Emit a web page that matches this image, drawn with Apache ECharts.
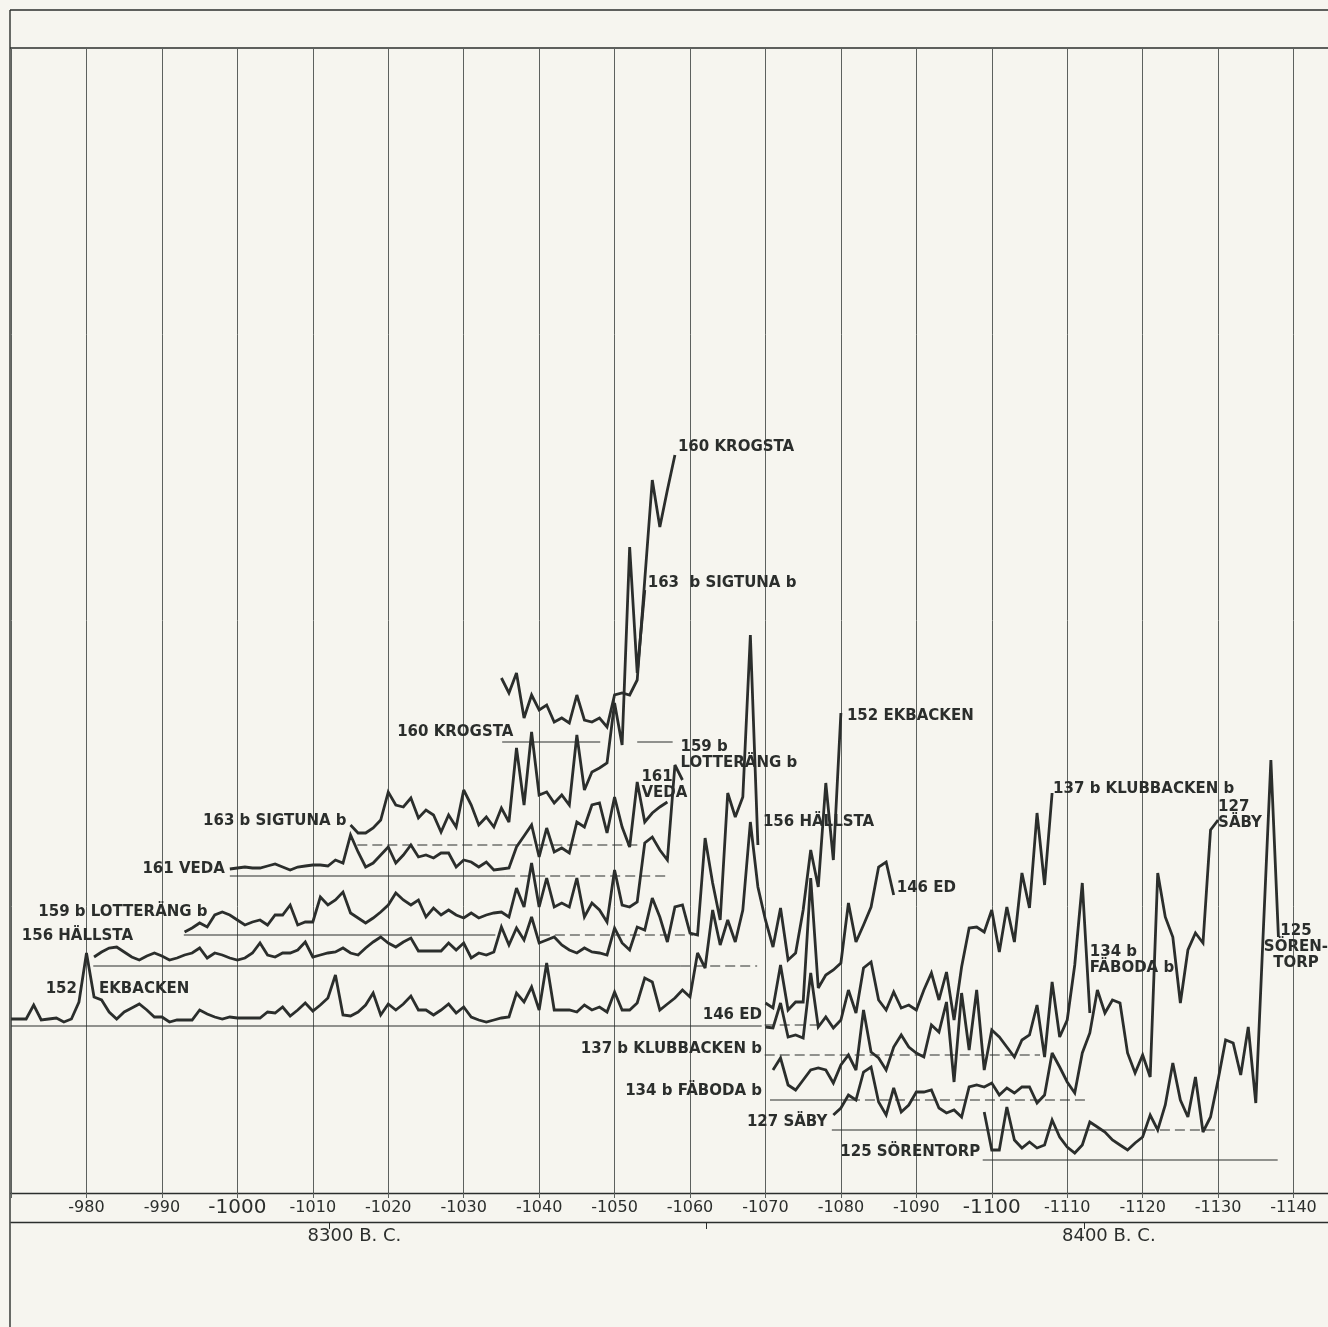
<!DOCTYPE html>
<html>
<head>
<meta charset="utf-8">
<script src="https://cdn.jsdelivr.net/npm/echarts@6/dist/echarts.min.js"></script>
<style>
  html, body { margin: 0; padding: 0; background: #f6f5ef; }
  #chart { width: 1328px; height: 1327px; }
</style>
</head>
<body>
<div id="chart"></div>
<script>
// Varve-thickness curves of eleven sites, plotted against the varve year.
// Each curve is lifted to its own base level; thickness values are relative
// to that base level (arbitrary units).

const siteNames = ['152 EKBACKEN', '156 HÄLLSTA', '159 b LOTTERÄNG b', '161 VEDA',
  '163 b SIGTUNA b', '160 KROGSTA', '146 ED', '137 b KLUBBACKEN b',
  '134 b FÄBODA b', '127 SÄBY', '125 SÖRENTORP'];

// first (youngest) varve year of every curve; each next value is one year older
const firstYears = [-970, -981, -993, -999, -1015, -1035, -1070, -1070, -1071, -1079, -1099];

// base level of every curve on the value axis
const baseLevels = [33.4, 45.4, 51.6, 63.4, 69.6, 90.2, 33.6, 27.6, 18.6, 12.6, 6.6];

const ekbackenVarves = [
  1.4, 1.4, 1.4, 4.2, 1.2, 1.4, 1.6, 0.8, 1.4, 4.8,
  14.6, 5.8, 5.2, 2.8, 1.4, 2.8, 3.6, 4.4, 3.2, 1.8,
  1.8, 0.8, 1.2, 1.2, 1.2, 3.2, 2.4, 1.8, 1.4, 1.8,
  1.6, 1.6, 1.6, 1.6, 2.8, 2.6, 3.8, 2.0, 3.2, 4.6,
  3.0, 4.2, 5.6, 10.2, 2.2, 2.0, 2.8, 4.2, 6.6, 2.2,
  4.4, 3.2, 4.4, 6.0, 3.2, 3.2, 2.2, 3.2, 4.4, 2.6,
  3.8, 1.8, 1.2, 0.8, 1.2, 1.6, 1.8, 6.6, 4.8, 7.8,
  3.2, 12.6, 3.2, 3.2, 3.2, 2.8, 4.2, 3.2, 3.8, 2.8,
  6.8, 3.2, 3.2, 4.6, 9.6, 8.8, 3.2, 4.4, 5.6, 7.2,
  5.8, 14.6, 11.6, 23.2, 16.2, 21.2, 16.8, 23.2, 40.8, 27.8,
  21.2, 15.8, 23.6, 13.2, 14.6, 23.2, 35.2, 27.8, 48.6, 33.2,
  62.6];

const hallstaVarves = [
  1.8, 2.8, 3.6, 3.8, 2.8, 1.8, 1.2, 2.0, 2.6, 2.0,
  1.2, 1.6, 2.2, 2.6, 3.6, 1.6, 2.6, 2.2, 1.6, 1.2,
  1.6, 2.6, 4.6, 2.2, 1.8, 2.6, 2.6, 3.2, 4.8, 1.8,
  2.2, 2.6, 2.8, 3.6, 2.6, 2.2, 3.6, 4.8, 5.8, 4.6,
  3.8, 4.8, 5.6, 3.0, 3.0, 3.0, 3.0, 4.6, 3.2, 4.6,
  1.6, 2.6, 2.2, 2.8, 7.8, 4.2, 7.6, 5.2, 9.8, 4.6,
  5.2, 5.8, 4.2, 3.2, 2.6, 3.6, 2.8, 2.6, 2.2, 7.6,
  4.6, 3.2, 7.8, 7.2, 13.6, 9.8, 4.8, 11.8, 12.2, 6.6,
  6.2, 25.6, 16.6, 9.2, 34.6, 29.8, 33.8, 66.2, 24.2];

const lotterangVarves = [
  0.6, 1.4, 2.4, 1.6, 4.0, 4.6, 4.0, 3.0, 2.0, 2.6,
  3.0, 2.0, 4.0, 4.0, 6.0, 2.0, 2.6, 2.6, 7.6, 6.0,
  7.0, 8.6, 4.4, 3.4, 2.4, 3.4, 4.6, 6.0, 8.4, 7.0,
  6.0, 7.0, 3.6, 5.4, 4.0, 5.0, 4.0, 3.4, 4.4, 3.4,
  4.0, 4.4, 4.6, 3.6, 9.4, 5.6, 14.4, 5.6, 11.4, 5.6,
  6.4, 5.6, 11.4, 3.6, 6.4, 5.0, 2.6, 13.0, 6.0, 5.6,
  6.6, 18.4, 19.6, 17.0, 15.0, 34.0, 31.0];

const vedaVarves = [
  1.4, 1.6, 1.8, 1.6, 1.6, 2.0, 2.4, 1.8, 1.2, 1.8,
  2.0, 2.2, 2.2, 2.0, 3.2, 2.6, 8.2, 4.8, 1.8, 2.6,
  4.2, 5.8, 2.6, 4.2, 6.2, 3.8, 4.2, 3.6, 4.6, 4.6,
  1.8, 3.2, 2.8, 1.8, 2.8, 1.2, 1.4, 1.6, 5.8, 8.0,
  10.2, 3.8, 9.6, 4.8, 5.6, 4.6, 10.8, 9.8, 14.2, 14.6,
  8.6, 15.8, 9.8, 5.8, 18.8, 10.8, 12.6, 13.8, 14.8];

const sigtunaVarves = [
  4.0, 2.4, 2.4, 3.4, 5.0, 10.6, 8.0, 7.6, 9.4, 5.4,
  7.0, 6.0, 2.6, 6.0, 3.6, 11.0, 8.0, 4.0, 5.6, 3.6,
  7.4, 4.6, 19.4, 8.0, 22.6, 10.0, 10.6, 8.4, 10.0, 8.0,
  22.0, 11.0, 14.6, 15.4, 16.4, 28.4, 20.0, 59.6, 34.4, 51.0];

const krogstaVarves = [
  12.8, 9.8, 13.8, 4.8, 9.4, 6.4, 7.4, 4.0, 4.8, 3.8,
  9.4, 4.4, 4.0, 4.8, 3.0, 9.4, 9.8, 9.4, 12.4, 32.4,
  52.4, 43.0, 50.4, 57.4];

const edVarves = [
  4.4, 3.4, 12.0, 3.0, 4.6, 4.6, 29.4, 7.4, 10.0, 11.0,
  12.4, 24.4, 16.6, 20.0, 23.6, 31.6, 32.6, 26.0];

const klubbackenVarves = [
  5.6, 5.4, 10.4, 3.6, 4.0, 3.4, 16.4, 5.6, 7.6, 5.4,
  7.0, 13.0, 8.4, 17.4, 18.6, 11.0, 9.0, 12.6, 9.4, 10.0,
  9.0, 13.0, 16.4, 11.0, 16.6, 7.0, 17.6, 25.4, 25.6, 24.6,
  29.0, 20.6, 29.6, 22.6, 36.4, 29.4, 48.4, 34.0, 52.4];

const fabodaVarves = [
  6.0, 8.4, 3.0, 2.0, 4.0, 6.0, 6.4, 6.0, 3.4, 7.0,
  9.0, 6.0, 18.0, 9.6, 8.4, 6.0, 10.6, 13.0, 10.6, 9.4,
  8.6, 15.0, 13.6, 19.6, 3.6, 21.4, 10.0, 22.0, 6.0, 14.0,
  12.6, 10.6, 8.6, 12.0, 13.0, 19.0, 8.6, 23.6, 12.6, 16.0,
  27.0, 43.4, 17.4];

const sabyVarves = [
  3.0, 4.4, 7.0, 6.0, 11.6, 12.6, 5.6, 3.0, 8.4, 3.6,
  5.0, 7.6, 7.6, 8.0, 4.4, 3.4, 4.0, 2.6, 8.6, 9.0,
  8.6, 9.4, 7.0, 8.4, 7.4, 8.6, 8.6, 5.4, 7.0, 15.4,
  12.6, 9.6, 7.4, 15.4, 19.4, 28.0, 23.4, 26.0, 25.4, 15.4,
  11.4, 15.0, 10.6, 51.4, 42.6, 38.6, 25.4, 36.0, 39.4, 37.4,
  60.0, 62.0];

const sorentorpVarves = [
  9.6, 2.0, 2.0, 10.6, 4.0, 2.4, 3.6, 2.4, 3.0, 8.0,
  4.6, 2.6, 1.4, 3.0, 7.6, 6.6, 5.6, 4.0, 3.0, 2.0,
  3.4, 4.6, 9.0, 6.0, 11.0, 19.4, 12.0, 8.6, 16.6, 5.6,
  8.6, 16.0, 24.0, 23.4, 17.0, 26.6, 11.4, 46.0, 80.0, 44.6];

const varves = [ekbackenVarves, hallstaVarves, lotterangVarves, vedaVarves,
  sigtunaVarves, krogstaVarves, edVarves, klubbackenVarves,
  fabodaVarves, sabyVarves, sorentorpVarves];

// base-level rules: [site, from year, to year, dashed]
const baseRules = [
  [0, -970, -1069.5, false],
  [6, -1069.9, -1077.6, true],
  [1, -980.9, -1058.7, false], [1, -1058.7, -1068.9, true],
  [2, -992.9, -1034.2, false], [2, -1040.1, -1060.4, true],
  [3, -999.0, -1035.5, false], [3, -1035.5, -1056.9, true],
  [4, -1015.9, -1053.4, true],
  [5, -1035.1, -1048.1, false], [5, -1053.0, -1057.7, false],
  [7, -1069.9, -1106.4, true],
  [8, -1070.6, -1081.2, false], [8, -1081.2, -1112.8, true],
  [9, -1078.8, -1120.3, false], [9, -1120.3, -1129.9, true],
  [10, -1098.8, -1137.9, false]
];

// year-axis tick step and the calendar scale below it
const yearTickStep = 10;
const bcOfVarveZero = 7287.8;          // calendar year (B.C.) = bcOfVarveZero - varve year
const bcTickYears = [8300, 8350, 8400];
const bcLabelYears = [8300, 8400];

// site labels: [site, anchor year, text, dx, dy, align]
const siteLabels = [
  [0, -980, '152', -9.5, 36, 'right'],
  [0, -980, 'EKBACKEN', 12.5, 36, 'left'],
  [0, -1080, '152 EKBACKEN', 6, 3, 'left'],
  [1, -981, '156 HÄLLSTA', 39, -21, 'right'],
  [1, -1069, '156 HÄLLSTA', 5, -23, 'left'],
  [2, -993, '159 b LOTTERÄNG b', 23, -20, 'right'],
  [2, -1059, '159 b\nLOTTERÄNG b', -2, -25, 'left'],
  [3, -999, '161 VEDA', -5, 0, 'right'],
  [3, -1057, '161\nVEDA', -26, -17, 'left'],
  [4, -1015, '163 b SIGTUNA b', -4, -4, 'right'],
  [4, -1054, '163  b SIGTUNA b', 3, -7, 'left'],
  [5, -1035, '160 KROGSTA', 12, 54, 'right'],
  [5, -1058, '160 KROGSTA', 3, -8, 'left'],
  [6, -1070, '146 ED', -3.5, 12, 'right'],
  [6, -1087, '146 ED', 3, -7, 'left'],
  [7, -1070, '137 b KLUBBACKEN b', -3.5, 22, 'right'],
  [7, -1108, '137 b KLUBBACKEN b', 1, -4, 'left'],
  [8, -1071, '134 b FÄBODA b', -11, 21, 'right'],
  [8, -1113, '134 b\nFÄBODA b', 0, -53, 'left'],
  [9, -1079, '127 SÄBY', -6, 7, 'right'],
  [9, -1130, '127\nSÄBY', 0, -5, 'left'],
  [10, -1099, '125 SÖRENTORP', -4, 40, 'right'],
  [10, -1138, '125\nSÖREN-\nTORP', 17.5, 10, 'center']
];

const INK = '#2b2e2c';
const GRID_INK = '#5d615e';
const chart = echarts.init(document.getElementById('chart'), null, { renderer: 'canvas' });

function curve(i) {
  return varves[i].map((v, j) => [firstYears[i] - j, +(baseLevels[i] + v).toFixed(2)]);
}
function pointAt(i, year) {
  const j = firstYears[i] - year;
  return [year, +(baseLevels[i] + varves[i][j]).toFixed(2)];
}

const series = [];
baseRules.forEach(([i, from, to, dashed]) => {
  series.push({
    type: 'line', silent: true, symbol: 'none', z: 2,
    data: [[from, baseLevels[i]], [to, baseLevels[i]]],
    lineStyle: { color: INK, width: 1.1, type: dashed ? [10, 5] : 'solid' }
  });
});
siteNames.forEach((name, i) => {
  series.push({
    name, type: 'line', silent: true, symbol: 'none', showSymbol: false, z: 3,
    data: curve(i),
    lineStyle: { color: INK, width: 2.8, join: 'miter', miterLimit: 3 }
  });
});
series.push({
  type: 'scatter', silent: true, z: 5, symbolSize: 0,
  itemStyle: { color: INK, opacity: 1 },
  data: siteLabels.map(([i, year, text, dx, dy, align]) => ({
    value: pointAt(i, year),
    label: {
      show: true, formatter: text, position: [dx, dy], align, verticalAlign: 'middle',
      color: INK, opacity: 1, fontFamily: 'DejaVu Sans', fontWeight: 'bold', fontSize: 15, lineHeight: 16
    }
  }))
});

chart.setOption({
  animation: false,
  backgroundColor: '#f6f5ef',
  grid: { left: 11.06, top: 48, width: 1357.9, height: 1145, containLabel: false, outerBoundsMode: 'none' },
  yAxis: { type: 'value', min: 0, max: 229, show: false },
  xAxis: [
    {
      type: 'value', inverse: true, min: -1150, max: -970, interval: yearTickStep,
      axisLine: { show: true, onZero: false, lineStyle: { color: INK, width: 1.3 } },
      axisTick: { show: true, length: 5, lineStyle: { color: GRID_INK, width: 1 } },
      splitLine: { show: true, lineStyle: { color: GRID_INK, width: 1 } },
      axisLabel: {
        margin: 15, verticalAlign: 'middle', color: INK,
        fontFamily: 'DejaVu Sans', fontSize: 16, hideOverlap: false,
        formatter: v => (v === -970 || v === -1150) ? '' :
          (v % 100 === 0 ? '{big|' + v + '}' : String(v)),
        rich: { big: { fontFamily: 'DejaVu Sans', fontSize: 20, color: INK } }
      }
    },
    {
      type: 'value', position: 'bottom', offset: 29,
      min: bcOfVarveZero + 970, max: bcOfVarveZero + 1150,
      axisLine: { show: true, onZero: false, lineStyle: { color: INK, width: 1.3 } },
      axisTick: { show: true, customValues: bcTickYears, length: 7, lineStyle: { color: INK, width: 1 } },
      splitLine: { show: false },
      axisLabel: {
        customValues: bcLabelYears, margin: 14, verticalAlign: 'middle',
        padding: [0, 0, 0, 50], color: INK, fontFamily: 'DejaVu Sans', fontSize: 18,
        formatter: v => v + ' B. C.'
      }
    }
  ],
  graphic: [
    { type: 'line', silent: true, shape: { x1: 10, y1: 10, x2: 1328, y2: 10 }, style: { stroke: INK, lineWidth: 1.4 } },
    { type: 'line', silent: true, shape: { x1: 10, y1: 48, x2: 1328, y2: 48 }, style: { stroke: INK, lineWidth: 1.4 } },
    { type: 'line', silent: true, shape: { x1: 10, y1: 10, x2: 10, y2: 1327 }, style: { stroke: INK, lineWidth: 1.4 } }
  ],
  series
});
</script>
</body>
</html>
